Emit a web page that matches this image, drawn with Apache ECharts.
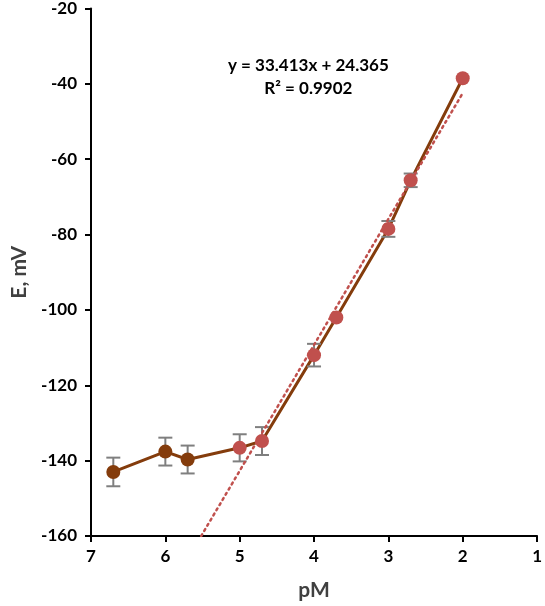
<!DOCTYPE html>
<html>
<head>
<meta charset="utf-8">
<script src="https://cdn.jsdelivr.net/npm/echarts@6/dist/echarts.min.js"></script>
<style>
    html, body { margin: 0; padding: 0; background: #fff; }
    #chart { width: 545px; height: 606px; }
</style>
</head>
<body>
<div id="chart"></div>
<script>
const pM = [6.7, 6.0, 5.7, 5.0, 4.7, 4.0, 3.7, 3.0, 2.7, 2.0]
const potential = [-143.0, -137.6, -139.7, -136.6, -134.8, -112.0, -102.0, -78.5, -65.6, -38.5]
const errorSize = [3.8, 3.7, 3.7, 3.6, 3.7, 3.0, 0, 2.1, 1.8, 0]
// first three points are brown, the rest belong to the linear range (red)
const linearStart = 3

// Trendline from the printed equation (x = log C = -pM)
const trendSlope = 33.413
const trendIntercept = 24.365
const trendRange = [5.518, 2.0]
const equationText = 'y = 33.413x + 24.365'
const r2Text = 'R² = 0.9902'

const brown = '#843C0C'
const red = '#C0504D'
const font = 'Lato'

const lineData = pM.map((x, i) => [x, potential[i]])
const brownPts = lineData.slice(0, linearStart)
const redPts = lineData.slice(linearStart)
const errData = pM.map((x, i) => [x, potential[i] - errorSize[i], potential[i] + errorSize[i]])
    .filter((d, i) => errorSize[i] > 0)
const trendData = trendRange.map(p => [p, -trendSlope * p + trendIntercept])

const chart = echarts.init(document.getElementById('chart'))

const option = {
    animation: false,
    grid: { left: 91, right: 6, top: 8, bottom: 68 },
    xAxis: {
        type: 'value',
        inverse: true,
        min: 1,
        max: 7,
        interval: 1,
        name: 'pM',
        nameLocation: 'middle',
        nameGap: 44,
        nameTextStyle: { fontFamily: font, fontWeight: 'bold', fontSize: 21, color: '#404040' },
        axisLine: { show: true, lineStyle: { color: '#000', width: 2 } },
        axisTick: { show: true, length: 6, lineStyle: { color: '#000', width: 2 } },
        axisLabel: { fontFamily: font, fontWeight: 'bold', fontSize: 17, color: '#000', margin: 12 },
        splitLine: { show: false }
    },
    yAxis: {
        type: 'value',
        min: -160,
        max: -20,
        interval: 20,
        name: 'E, mV',
        nameLocation: 'middle',
        nameGap: 52,
        nameRotate: 90,
        nameTextStyle: { fontFamily: font, fontWeight: 'bold', fontSize: 21, color: '#404040' },
        axisLine: { show: true, onZero: false, lineStyle: { color: '#000', width: 2 } },
        axisTick: { show: true, length: 6, lineStyle: { color: '#000', width: 2 } },
        axisLabel: { fontFamily: font, fontWeight: 'bold', fontSize: 17, color: '#000', margin: 14 },
        splitLine: { show: false }
    },
    graphic: [
        {
            type: 'text',
            left: 308 - 80,
            top: 54,
            style: {
                text: equationText + '\n' + r2Text,
                x: 80,
                textAlign: 'center',
                font: 'bold 17px ' + font,
                lineHeight: 23,
                fill: '#000'
            }
        }
    ],
    series: [
        {
            type: 'line',
            data: lineData,
            showSymbol: false,
            lineStyle: { color: brown, width: 3 },
            z: 2
        },
        {
            type: 'custom',
            data: errData,
            z: 3,
            renderItem: function (params, api) {
                const x = api.value(0)
                const lo = api.coord([x, api.value(1)])
                const hi = api.coord([x, api.value(2)])
                const cap = 7
                const style = { stroke: '#7F7F7F', lineWidth: 2 }
                return {
                    type: 'group',
                    children: [
                        { type: 'line', shape: { x1: lo[0], y1: lo[1], x2: hi[0], y2: hi[1] }, style },
                        { type: 'line', shape: { x1: lo[0] - cap, y1: lo[1], x2: lo[0] + cap, y2: lo[1] }, style },
                        { type: 'line', shape: { x1: hi[0] - cap, y1: hi[1], x2: hi[0] + cap, y2: hi[1] }, style }
                    ]
                }
            }
        },
        {
            type: 'scatter',
            data: brownPts,
            symbolSize: 14,
            itemStyle: { color: brown, opacity: 1 },
            z: 4
        },
        {
            type: 'scatter',
            data: redPts,
            symbolSize: 14,
            itemStyle: { color: red, opacity: 1 },
            z: 4
        },
        {
            type: 'line',
            data: trendData,
            showSymbol: false,
            lineStyle: { color: red, width: 2.5, type: [2, 4], cap: 'round' },
            z: 5
        }
    ]
}

chart.setOption(option)
</script>
</body>
</html>
